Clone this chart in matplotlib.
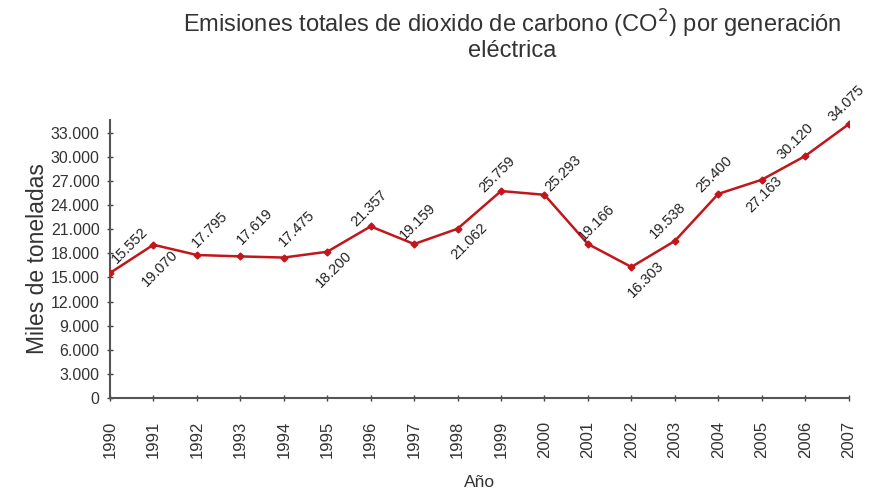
import matplotlib.pyplot as plt

plt.rcParams['font.family'] = ['Liberation Sans', 'DejaVu Sans']

years = list(range(1990, 2008))
emisiones = [15552, 19070, 17795, 17619, 17475, 18200, 21357, 19159, 21062,
             25759, 25293, 19166, 16303, 19538, 25400, 27163, 30120, 34075]
etiquetas = ['15.552', '19.070', '17.795', '17.619', '17.475', '18.200', '21.357',
             '19.159', '21.062', '25.759', '25.293', '19.166', '16.303', '19.538',
             '25.400', '27.163', '30.120', '34.075']
y_ticks = list(range(0, 33001, 3000))
y_labels = ['0' if v == 0 else f"{v // 1000}.000" for v in y_ticks]

# label placement (pixels from the point, to the label centre), as in the original
label_off = [(20, 28), (6, -24), (13, 26), (15, 30), (13, 29), (7, -18),
             (-1, 18), (4, 23), (12, -13), (-4, 17), (19, 21), (9, 22),
             (15, -12), (-7, 21), (-4, 20), (2, -15), (-10, 15), (-2, 21)]

fig = plt.figure(figsize=(8.7, 4.9), dpi=100)
ax = fig.add_axes([0.1264, 0.188, 0.849, 0.567])

color = '#c0161c'
ax.plot(years, emisiones, color=color, lw=1.8, marker='D', markersize=3.5, zorder=3)

for x, y, t, off in zip(years, emisiones, etiquetas, label_off):
    ax.annotate(t, (x, y), xytext=off, textcoords='offset pixels',
                rotation=45, ha='center', va='center',
                fontsize=10.5, color='#222222')

ax.set_xlim(1990, 2007)
ax.set_ylim(0, 34600)
ax.set_xticks(years)
ax.set_xticklabels([str(y) for y in years], rotation=90, fontsize=12, color='#333333')
ax.set_yticks(y_ticks)
ax.set_yticklabels(y_labels, fontsize=11.5, color='#333333')
ax.tick_params(direction='inout', length=5, width=1, color='#444444')
ax.tick_params(axis='y', pad=5)
ax.tick_params(axis='x', pad=14)

ax.spines['top'].set_visible(False)
ax.spines['right'].set_visible(False)
ax.spines['left'].set_color('#555555')
ax.spines['bottom'].set_color('#555555')
ax.spines['left'].set_linewidth(1.5)
ax.spines['bottom'].set_linewidth(1.5)

ax.set_xlabel('Año', fontsize=12.5, color='#333333', labelpad=12)
ax.set_ylabel('Miles de toneladas', fontsize=16.5, color='#333333', labelpad=1)

fig.text(0.589, 0.985, 'Emisiones totales de dioxido de carbono (CO$^2$) por generación\neléctrica',
         ha='center', va='top', fontsize=17, color='#333333', linespacing=1.05)

plt.savefig('out.png', dpi=100)
